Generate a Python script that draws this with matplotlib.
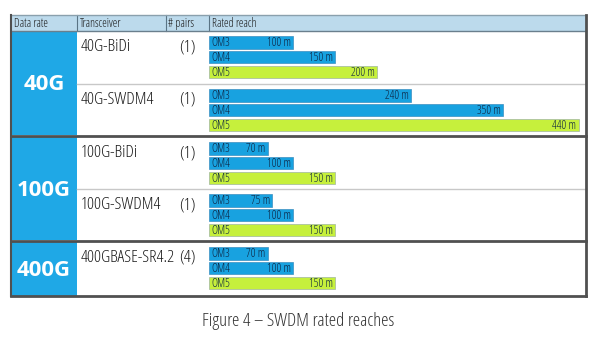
import matplotlib
matplotlib.use("Agg")
import matplotlib.pyplot as plt
from matplotlib.patches import Rectangle

# ---- data ----
data_rates = ["40G", "100G", "400G"]
transceivers = ["40G-BiDi", "40G-SWDM4", "100G-BiDi", "100G-SWDM4", "400GBASE-SR4.2"]
pairs = ["(1)", "(1)", "(1)", "(1)", "(4)"]
rate_of_transceiver = [0, 0, 1, 1, 2]
fibers = ["OM3", "OM4", "OM5"]
reach_om3 = [100, 240, 70, 75, 70]
reach_om4 = [150, 350, 100, 100, 100]
reach_om5 = [200, 440, 150, 150, 150]
headers = ["Data rate", "Transceiver", "# pairs", "Rated reach"]
caption = "Figure 4 \u2013 SWDM rated reaches"

# ---- style ----
NARROW = dict(family=["Open Sans", "DejaVu Sans"], fontstretch="condensed")
BLUE = "#1fa8e6"
BAR_BLUE = "#18a2e0"
BAR_GREEN = "#c6f03c"
HEADER_BG = "#bcdaec"
TEXT_DARK = "#1a1a1a"
LABEL_DARK = "#0d2240"

W, H = 600, 338
fig = plt.figure(figsize=(W / 100, H / 100), dpi=100)
fig.patch.set_facecolor("white")
ax = fig.add_axes([0, 0, 1, 1])
ax.set_xlim(0, W)
ax.set_ylim(H, 0)
ax.axis("off")

# table geometry (pixels)
x_left, x_trans, x_pairs, x_reach, x_right = 11, 77, 166, 209, 586
y_top, y_head = 15, 31
row_tops = [31, 84, 137, 189, 242]
row_bottoms = [83, 135, 188, 240, 296]
block_spans = [(31, 135), (137, 240), (242, 296)]

# header
ax.add_patch(Rectangle((x_left, y_top), x_right - x_left, y_head - y_top,
                       facecolor=HEADER_BG, edgecolor="none", zorder=1))
for xs, label in zip([x_left, x_trans, x_pairs, x_reach], headers):
    ax.text(xs + 2.5, (y_top + y_head) / 2 + 0.5, label, fontsize=8.5,
            color=TEXT_DARK, va="center", ha="left", zorder=3, **NARROW)
for xs in [x_trans, x_pairs, x_reach]:
    ax.plot([xs, xs], [y_top, y_head], color="#5a7485", lw=0.8, zorder=2)
ax.plot([x_left, x_right], [y_head, y_head], color="#6a7f8d", lw=1.0, zorder=2)

# data-rate cells
for (y0, y1), name in zip(block_spans, data_rates):
    ax.add_patch(Rectangle((x_left, y0), x_trans - x_left, y1 - y0,
                           facecolor=BLUE, edgecolor="none", zorder=1))
    ax.text((x_left + x_trans) / 2, (y0 + y1) / 2 + 1.5, name,
            fontsize=16, fontweight="bold", color="white", ha="center",
            va="center", zorder=3, **NARROW)

# transceiver and pair columns
for i, (t, p) in enumerate(zip(transceivers, pairs)):
    ty = row_tops[i] + 20
    ax.text(x_trans + 4, ty, t, fontsize=12.5, color=TEXT_DARK,
            ha="left", va="baseline", zorder=3, **NARROW)
    ax.text(x_pairs + 30, ty, p, fontsize=12.5, color=TEXT_DARK,
            ha="right", va="baseline", zorder=3, **NARROW)

# row separators
for i in range(len(transceivers) - 1):
    same_block = rate_of_transceiver[i] == rate_of_transceiver[i + 1]
    y = (row_bottoms[i] + row_tops[i + 1]) / 2
    if same_block:
        ax.plot([x_trans, x_right], [y, y], color="#c8c8c8", lw=1.0, zorder=2)
    else:
        ax.plot([x_left, x_right], [y, y], color="#505050", lw=2.0, zorder=4)

# outer frame
ax.plot([x_left, x_right], [y_top, y_top], color="#8aa0ad", lw=1.0, zorder=4)
ax.plot([x_left, x_left], [y_top, 296], color="#505050", lw=1.5, zorder=4)
ax.plot([x_right, x_right], [y_top, 296], color="#505050", lw=2.0, zorder=4)
ax.plot([x_left, x_right], [296, 296], color="#505050", lw=2.0, zorder=4)

# reach bars: x in metres, y in table pixels
px_per_m = 0.84
bax = fig.add_axes([x_reach / W, 1 - 296 / H, (x_right - x_reach) / W, (296 - y_head) / H])
bax.set_xlim(0, (x_right - x_reach) / px_per_m)
bax.set_ylim(296, y_head)
bax.axis("off")
bax.patch.set_alpha(0)

pitch, bar_h = 14.7, 12.5
reaches = list(zip(reach_om3, reach_om4, reach_om5))
for i, vals in enumerate(reaches):
    for j, (fiber, v) in enumerate(zip(fibers, vals)):
        yc = row_tops[i] + 11.5 + j * pitch
        col = BAR_GREEN if fiber == "OM5" else BAR_BLUE
        bax.barh(yc, v, height=bar_h, left=0, color=col,
                 edgecolor="#9fb6a0" if fiber == "OM5" else "#3b8fc0", linewidth=0.5)
        bax.text(2.5, yc + 0.3, fiber, fontsize=8.5, color=LABEL_DARK,
                 ha="left", va="center", **NARROW)
        bax.text(v - 2.5, yc + 0.3, f"{v} m", fontsize=8.5,
                 color=LABEL_DARK, ha="right", va="center", **NARROW)

# caption
ax.text(298, 321, caption, fontsize=13.5, color="#333333",
        ha="center", va="center", **NARROW)

fig.savefig("out.png", dpi=100, facecolor="white")
